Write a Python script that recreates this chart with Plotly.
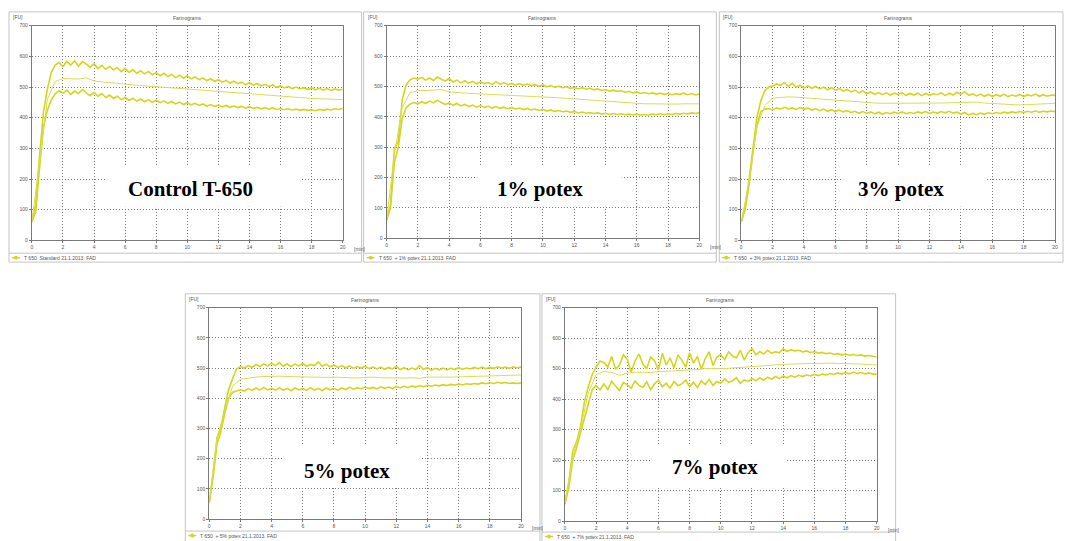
import plotly.graph_objects as go

W, H = 1067, 541

# ---------------- data (FU values) ----------------
T_FINE = [i * 0.25 for i in range(81)]   # minutes, noisy envelope curves
T_MEAN = [i * 0.5 for i in range(41)]    # minutes, smoothed middle curve

CTRL_UP = [60, 120, 280, 420, 495, 548, 572, 580, 566, 584,
           572, 586, 568, 583, 575, 565, 576, 560, 571, 558,
           567, 556, 564, 550, 561, 548, 557, 545, 553, 543,
           551, 540, 547, 537, 545, 534, 541, 531, 539, 529,
           537, 527, 533, 524, 530, 521, 527, 519, 524, 516,
           522, 513, 519, 511, 516, 508, 514, 506, 511, 504,
           509, 502, 507, 499, 504, 497, 502, 495, 500, 494,
           498, 492, 497, 491, 496, 490, 495, 489, 494, 490,
           493]
CTRL_LO = [60, 95, 240, 370, 425, 458, 478, 488, 480, 490,
           476, 487, 479, 492, 481, 472, 483, 470, 479, 466,
           474, 463, 470, 459, 466, 457, 463, 454, 461, 452,
           459, 450, 457, 449, 455, 447, 453, 445, 451, 443,
           449, 442, 447, 440, 445, 438, 443, 437, 441, 435,
           440, 434, 438, 433, 437, 431, 436, 430, 434, 429,
           433, 428, 432, 427, 430, 426, 429, 425, 428, 424,
           427, 424, 426, 423, 427, 424, 428, 425, 429, 427,
           431]
CTRL_MID = [60, 260, 460, 518, 528, 527, 526, 530, 520, 517,
            514, 511, 509, 507, 505, 503, 501, 499, 497, 495,
            493, 491, 489, 487, 485, 483, 481, 479, 477, 475,
            473, 471, 469, 467, 466, 464, 463, 462, 461, 460,
            459]

P1_UP = [60, 110, 295, 320, 455, 505, 522, 528, 524, 530,
         521, 528, 520, 531, 524, 518, 526, 515, 521, 512,
         519, 511, 517, 509, 515, 510, 513, 507, 516, 508,
         512, 506, 510, 505, 509, 504, 508, 503, 506, 501,
         505, 499, 503, 497, 501, 496, 499, 494, 497, 492,
         496, 491, 494, 489, 492, 487, 490, 485, 488, 484,
         486, 481, 484, 479, 482, 477, 480, 476, 479, 475,
         478, 474, 477, 473, 476, 474, 478, 473, 477, 472,
         475]
P1_LO = [60, 100, 250, 300, 395, 430, 442, 447, 443, 450,
         444, 452, 446, 455, 447, 441, 446, 438, 444, 436,
         441, 434, 439, 432, 437, 431, 435, 429, 434, 428,
         432, 427, 431, 426, 429, 424, 428, 423, 426, 421,
         425, 419, 423, 418, 421, 417, 419, 415, 418, 413,
         416, 412, 414, 411, 413, 409, 412, 408, 411, 408,
         410, 407, 409, 406, 409, 406, 408, 406, 409, 407,
         410, 407, 410, 408, 411, 409, 412, 410, 413, 411,
         414]
P1_MID = [60, 275, 430, 480, 486, 486, 488, 490, 483, 480,
          478, 476, 475, 474, 473, 472, 471, 470, 469, 468,
          467, 465, 463, 461, 459, 457, 455, 453, 451, 449,
          447, 445, 444, 443, 443, 442, 442, 442, 443, 443,
          443]

P3_UP = [60, 110, 200, 310, 400, 455, 488, 500, 503, 510,
         505, 515, 502, 512, 500, 506, 497, 504, 496, 502,
         494, 500, 491, 498, 490, 495, 487, 492, 484, 490,
         481, 488, 478, 484, 476, 482, 475, 481, 474, 480,
         476, 481, 473, 479, 474, 480, 472, 479, 473, 478,
         475, 481, 472, 480, 474, 483, 476, 485, 473, 478,
         471, 477, 470, 476, 469, 475, 470, 477, 469, 474,
         470, 476, 469, 475, 471, 477, 470, 475, 470, 474,
         473]
P3_LO = [60, 100, 180, 290, 375, 420, 428, 430, 426, 432,
         428, 434, 429, 432, 427, 433, 428, 431, 425, 429,
         423, 428, 421, 426, 420, 425, 419, 423, 417, 421,
         415, 420, 414, 419, 413, 418, 412, 417, 413, 418,
         414, 419, 413, 417, 414, 419, 415, 420, 414, 418,
         415, 420, 416, 421, 415, 418, 412, 417, 409, 414,
         410, 415, 411, 416, 413, 417, 414, 418, 415, 419,
         416, 420, 417, 421, 418, 422, 418, 421, 419, 422,
         420]
P3_MID = [60, 190, 370, 440, 464, 467, 468, 467, 465, 464,
          462, 460, 458, 455, 452, 450, 449, 448, 447, 447,
          447, 447, 446, 447, 447, 448, 448, 449, 450, 452,
          451, 448, 446, 444, 443, 442, 442, 443, 445, 446,
          447]

P5_UP = [55, 150, 270, 300, 370, 430, 465, 497, 505, 500,
         508, 502, 512, 505, 514, 507, 516, 508, 518, 506,
         514, 505, 513, 507, 515, 506, 512, 508, 520, 506,
         513, 504, 510, 502, 508, 501, 507, 499, 505, 500,
         506, 498, 504, 497, 503, 496, 502, 497, 505, 495,
         501, 494, 500, 495, 508, 496, 501, 493, 499, 494,
         500, 494, 499, 495, 501, 496, 500, 497, 502, 498,
         503, 498, 502, 499, 504, 500, 503, 499, 504, 501,
         503]
P5_LO = [55, 140, 250, 290, 350, 400, 420, 425, 428, 424,
         432, 426, 434, 427, 436, 428, 433, 427, 435, 426,
         433, 425, 434, 428, 432, 426, 435, 427, 433, 425,
         434, 428, 432, 427, 434, 429, 436, 430, 435, 431,
         437, 432, 436, 431, 438, 433, 437, 432, 439, 434,
         440, 435, 441, 437, 442, 438, 443, 440, 444, 441,
         445, 442, 446, 444, 447, 444, 448, 446, 449, 447,
         451, 448, 452, 449, 453, 450, 452, 449, 451, 449,
         451]
P5_MID = [55, 270, 360, 440, 463, 467, 470, 472, 473, 473,
          472, 471, 472, 471, 470, 469, 470, 469, 468, 467,
          469, 470, 468, 467, 466, 467, 468, 466, 470, 471,
          470, 470, 471, 472, 472, 473, 474, 475, 476, 477,
          477]

P7_UP = [60, 125, 230, 260, 310, 390, 440, 480, 505, 525,
         520, 505, 540, 498, 512, 545, 530, 488, 525, 548,
         515, 500, 538, 526, 495, 550, 512, 535, 502, 545,
         528, 505, 552, 518, 540, 498, 532, 555, 510, 538,
         545, 530, 555, 541, 536, 560, 528, 552, 566, 545,
         556, 548, 560, 551, 555, 552, 565, 556, 562, 558,
         560, 555, 558, 553, 556, 551, 553, 549, 551, 547,
         549, 545, 547, 544, 546, 543, 545, 541, 543, 540,
         538]
P7_LO = [55, 110, 200, 240, 290, 340, 390, 430, 445, 430,
         450, 432, 458, 441, 428, 455, 447, 436, 460, 445,
         438, 457, 431, 450, 462, 440, 452, 436, 458, 444,
         450, 462, 441, 455, 438, 460, 448, 465, 445, 458,
         452, 466, 455, 460, 470, 452, 463, 458, 468, 460,
         470, 462, 472, 465, 474, 468, 475, 470, 477, 472,
         478, 474, 479, 476, 481, 477, 482, 479, 484, 481,
         486, 482, 487, 483, 488, 484, 487, 483, 486, 482,
         482]
P7_MID = [60, 210, 300, 420, 480, 490, 488, 478, 485, 488,
          488, 487, 490, 491, 492, 493, 495, 497, 500, 499,
          500, 501, 503, 506, 508, 510, 512, 513, 514, 515,
          516, 517, 517, 518, 518, 517, 517, 516, 515, 513,
          512]

LABELS = ["Control T-650", "1% potex", "3% potex", "5% potex", "7% potex"]
LEGENDS = ["T 650  Standard 21.1.2013. FAD",
           "T 650  + 1% potex 21.1.2013. FAD",
           "T 650  + 3% potex 21.1.2013. FAD",
           "T 650  + 5% potex 21.1.2013. FAD",
           "T 650  + 7% potex 21.1.2013. FAD"]
SERIES = [(CTRL_UP, CTRL_MID, CTRL_LO), (P1_UP, P1_MID, P1_LO),
          (P3_UP, P3_MID, P3_LO), (P5_UP, P5_MID, P5_LO),
          (P7_UP, P7_MID, P7_LO)]
X_TICKS = list(range(0, 21, 2))
Y_TICKS = list(range(0, 701, 100))

for up, mid, lo in SERIES:
    assert len(up) == 81 and len(lo) == 81 and len(mid) == 41

# ---------------- layout geometry (pixels) ----------------
AREAS = [(31, 23, 343, 240), (387, 23, 701, 238), (743, 23, 1058, 240),
         (209, 308, 522, 522), (566, 308, 879, 524)]
FRAMES = [(8, 9, 362, 262, 253), (364, 9, 718, 262, 253),
          (721, 9, 1066, 262, 253), (185, 294, 541, 545, 534),
          (543, 294, 898, 545, 535)]
SHOW_MIN = [True, True, False, True, True]   # third panel's unit falls off the image
BOXES = [(106, 165, 301, 206), (478, 165, 623, 206), (845, 165, 988, 206),
         (284, 447, 422, 489), (653, 447, 787, 489)]
LABEL_POS = [(190, 188), (541, 188), (903, 188), (347, 473), (717, 469)]

def fx(p):
    return p / W

def fy(p):
    return 1 - p / H

YEL = "#d3d71c"
YEL_MID = "#dadc55"
GRID = "#7c7c7c"
AXL = "#7a7a7a"
TXT = "#555555"
FRAME_C = "#c4c4c4"
SMALL = dict(family="Liberation Sans, Arial, sans-serif", size=5, color=TXT)

fig = go.Figure()
layout = dict(width=W, height=H, margin=dict(l=0, r=0, t=0, b=0),
              paper_bgcolor="white", plot_bgcolor="white", showlegend=False,
              autosize=False)
shapes = []
annotations = []

for i, ((up, mid, lo), area, frame, box, lp, lab, leg, smin) in enumerate(
        zip(SERIES, AREAS, FRAMES, BOXES, LABEL_POS, LABELS, LEGENDS, SHOW_MIN)):
    n = i + 1
    xa = "x" if n == 1 else f"x{n}"
    ya = "y" if n == 1 else f"y{n}"
    for ys, tx, col, wd in ((up, T_FINE, YEL, 1.6), (lo, T_FINE, YEL, 1.6),
                            (mid, T_MEAN, YEL_MID, 1.0)):
        fig.add_trace(go.Scatter(x=tx, y=ys, mode="lines", xaxis=xa, yaxis=ya,
                                 line=dict(color=col, width=wd),
                                 hoverinfo="skip"))
    l, t, r, b = area
    axis_common = dict(showline=True, mirror=True, linecolor=AXL, linewidth=1,
                       showgrid=True, gridcolor=GRID, griddash="1px,2px",
                       gridwidth=1, zeroline=False, ticks="outside",
                       ticklen=2, tickcolor=AXL, tickfont=SMALL,
                       fixedrange=True)
    layout[f"xaxis{'' if n == 1 else n}"] = dict(
        domain=[fx(l), fx(r)], range=[0, 20], tickvals=X_TICKS,
        anchor=ya, **axis_common)
    layout[f"yaxis{'' if n == 1 else n}"] = dict(
        domain=[fy(b), fy(t)], range=[0, 700], tickvals=Y_TICKS,
        anchor=xa, **axis_common)

    fl, ft, fr, fb, sep = frame
    shapes.append(dict(type="rect", xref="paper", yref="paper",
                       x0=fx(fl), x1=fx(fr), y0=fy(fb), y1=fy(ft),
                       line=dict(color=FRAME_C, width=1), layer="below"))
    shapes.append(dict(type="line", xref="paper", yref="paper",
                       x0=fx(fl), x1=fx(fr), y0=fy(sep), y1=fy(sep),
                       line=dict(color=FRAME_C, width=1), layer="below"))
    ly = sep + 4.5
    shapes.append(dict(type="line", xref="paper", yref="paper",
                       x0=fx(fl + 3), x1=fx(fl + 11), y0=fy(ly), y1=fy(ly),
                       line=dict(color=YEL, width=1.5)))
    shapes.append(dict(type="circle", xref="paper", yref="paper",
                       x0=fx(fl + 5), x1=fx(fl + 9), y0=fy(ly + 2), y1=fy(ly - 2),
                       fillcolor=YEL, line=dict(color=YEL, width=0)))
    annotations.append(dict(text=leg, xref="paper", yref="paper",
                            x=fx(fl + 13), y=fy(ly), xanchor="left",
                            yanchor="middle", showarrow=False, font=SMALL))
    annotations.append(dict(text="Farinograms", xref="paper", yref="paper",
                            x=fx((l + r) / 2), y=fy(t - 8), xanchor="center",
                            yanchor="middle", showarrow=False, font=SMALL))
    annotations.append(dict(text="[FU]", xref="paper", yref="paper",
                            x=fx(fl + 2), y=fy(t - 9), xanchor="left",
                            yanchor="middle", showarrow=False, font=SMALL))
    if smin:
        annotations.append(dict(text="[min]", xref="paper", yref="paper",
                                x=fx(r + 9), y=fy(b + 9), xanchor="left",
                                yanchor="middle", showarrow=False, font=SMALL))
    bl, bt, br, bb = box
    shapes.append(dict(type="rect", xref="paper", yref="paper",
                       x0=fx(bl), x1=fx(br), y0=fy(bb), y1=fy(bt),
                       fillcolor="white", line=dict(width=0), layer="above"))
    annotations.append(dict(text=f"<b>{lab}</b>", xref="paper", yref="paper",
                            x=fx(lp[0]), y=fy(lp[1]), xanchor="center",
                            yanchor="middle", showarrow=False,
                            font=dict(family="Liberation Serif, Times New Roman, serif",
                                      size=21, color="black")))

layout["shapes"] = shapes
layout["annotations"] = annotations
fig.update_layout(**layout)
fig.write_html("out.html")
